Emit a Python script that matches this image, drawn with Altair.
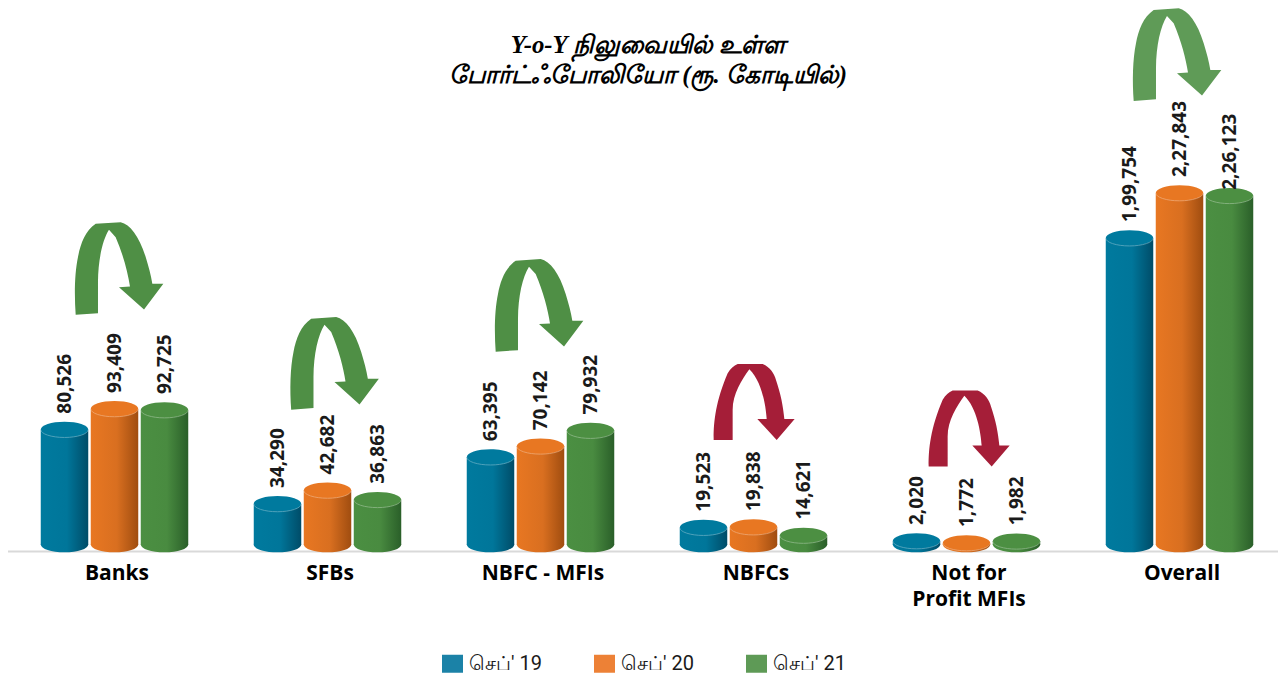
import altair as alt
import pandas as pd

categories = ["Banks", "SFBs", "NBFC - MFIs", "NBFCs", "Not for|Profit MFIs", "Overall"]
series = ["செப்' 19", "செப்' 20", "செப்' 21"]
values_19 = [80526, 34290, 63395, 19523, 2020, 199754]
values_20 = [93409, 42682, 70142, 19838, 1772, 227843]
values_21 = [92725, 36863, 79932, 14621, 1982, 226123]
labels_19 = ["80,526", "34,290", "63,395", "19,523", "2,020", "1,99,754"]
labels_20 = ["93,409", "42,682", "70,142", "19,838", "1,772", "2,27,843"]
labels_21 = ["92,725", "36,863", "79,932", "14,621", "1,982", "2,26,123"]
title_lines = ["Y-o-Y நிலுவையில் உள்ள", "போர்ட்ஃபோலியோ (ரூ. கோடியில்)"]

swatch = ["#1b82a7", "#ed8136", "#5e9a56"]
top_col = ["#007a9e", "#e87722", "#4c8f42"]
grad = [["#007a9e", "#00769a", "#004c68"],
        ["#e87722", "#d96f20", "#a04d10"],
        ["#4b8f42", "#498b40", "#2a5f29"]]

rows = []
for i, (vals, labs) in enumerate(zip([values_19, values_20, values_21], [labels_19, labels_20, labels_21])):
    for c, v, l in zip(categories, vals, labs):
        rows.append({"category": c, "series": series[i], "value": v, "label": l, "base": 0})
df = pd.DataFrame(rows)

W, H = 1270, 666
x_scale = alt.Scale(type="point", domain=categories, range=[106.5, 1171.5], padding=0)
y_scale = alt.Scale(domain=[0, 1772, 2020, 14621, 227843], range=[536.5, 535, 533, 527.5, 185],
                    nice=False, zero=False, clamp=False)
off_scale = alt.Scale(type="point", domain=series, range=[-50, 50], padding=0)
lab_off_scale = alt.Scale(type="point", domain=series, range=[-48, 47], padding=0)

x_axis = alt.Axis(
    orient="bottom", offset=-(H - 543), domain=False, ticks=False, labelAngle=0, title=None,
    labelFont="Open Sans", labelFontWeight="bold", labelFontSize=21, labelColor="#000000",
    labelPadding=11, labelOffset=2, labelOverlap=False, labelFlush=False,
    labelLineHeight=26, labelBaseline="top", labelExpr="split(datum.label, '|')")
X = alt.X("category:N", scale=x_scale, sort=categories, axis=x_axis)
Y = alt.Y("value:Q", scale=y_scale, axis=None)
XO = alt.XOffset("series:N", scale=off_scale, sort=series)

ELLIPSE = "M -1 0 A 1 0.33 0 1 1 1 0 A 1 0.33 0 1 1 -1 0 Z"
RIM = "M -1 0 A 1 0.33 0 0 0 1 0"
SZ = 47.5 ** 2

layers = []

# baseline
layers.append(alt.Chart(pd.DataFrame({"v": [0]})).mark_rule(color="#d9d9d9", strokeWidth=2).encode(
    x=alt.value(-1), x2=alt.value(W), y=alt.value(543.5)))

for i, s in enumerate(series):
    d = df[df.series == s]
    g = alt.Gradient(gradient="linear", x1=0, y1=0, x2=1, y2=0,
                     stops=[alt.GradientStop(color=grad[i][0], offset=0),
                            alt.GradientStop(color=grad[i][1], offset=0.55),
                            alt.GradientStop(color=grad[i][2], offset=1)])
    base = alt.Chart(d)
    layers.append(base.mark_point(shape=ELLIPSE, size=SZ, filled=True, fill=g, opacity=1, strokeWidth=0).encode(
        x=X, xOffset=XO, y=alt.Y("base:Q", scale=y_scale, axis=None)))
    layers.append(base.mark_bar(width=47.5, fill=g, opacity=1).encode(
        x=X, xOffset=XO, y=Y, y2=alt.Y2("base:Q")))
    layers.append(base.mark_point(shape=ELLIPSE, size=SZ, filled=True, fill=top_col[i], opacity=1, strokeWidth=0).encode(
        x=X, xOffset=XO, y=Y))
    layers.append(base.mark_point(shape=RIM, size=SZ, filled=False, stroke="#ffffff", strokeWidth=1, opacity=0.3).encode(
        x=X, xOffset=XO, y=Y))

# value labels
lab_df = df[df.label != "2,26,123"]
lab_style = dict(angle=270, align="left", baseline="middle", font="Open Sans", fontWeight="bold",
                 fontSize=19, color="#1a1a1a")
layers.append(alt.Chart(lab_df).mark_text(dx=16, **lab_style).encode(
    x=X, xOffset=alt.XOffset("series:N", scale=lab_off_scale, sort=series), y=Y, text="label:N"))
layers.append(alt.Chart(df[df.label == "2,26,123"]).mark_text(dx=6, **lab_style).encode(
    x=X, xOffset=alt.XOffset("series:N", scale=lab_off_scale, sort=series), y=Y, text="label:N"))

# curved arrows
GREEN_ARROW = ("M -0.977 1.045 C -1.01 0.6 -1.0 0.1 -0.925 -0.256 C -0.87 -0.56 -0.76 -0.85 -0.526 -1.008 "
               "L 0.038 -1.045 C 0.25 -1.0 0.46 -0.72 0.602 -0.256 C 0.67 -0.03 0.72 0.15 0.752 0.346 "
               "L 1 0.346 L 0.564 0.925 L 0 0.421 L 0.248 0.406 C 0.2 0.1 0.1 -0.3 -0.075 -0.707 "
               "L -0.226 -0.872 C -0.37 -0.65 -0.47 -0.2 -0.474 0.3 L -0.474 1.008 Z")
RED_ARROW = ("M -0.996 0.938 C -1.0 0.5 -0.95 0.0 -0.65 -0.708 C -0.58 -0.83 -0.5 -0.9 -0.403 -0.938 "
             "L 0.214 -0.938 C 0.4 -0.86 0.5 -0.7 0.543 -0.543 C 0.66 -0.2 0.72 0.1 0.749 0.42 "
             "L 1.004 0.42 L 0.56 0.938 L 0.082 0.42 L 0.313 0.42 C 0.29 0.1 0.2 -0.5 -0.115 -0.807 "
             "C -0.3 -0.55 -0.527 -0.2 -0.527 0.198 L -0.527 0.938 Z")
arrow_category = ["Banks", "SFBs", "NBFC - MFIs", "NBFCs", "Not for|Profit MFIs", "Overall"]
arrow_level = [180860, 121750, 157840, 97790, 81300, 314000]
arrow_shape = [GREEN_ARROW, GREEN_ARROW, GREEN_ARROW, RED_ARROW, RED_ARROW, GREEN_ARROW]
arrow_color = ["#4f8f45", "#4f8f45", "#4f8f45", "#a51e38", "#a51e38", "#5f9b57"]
arrow_size = [7862, 7862, 7862, 6561, 6561, 7862]
arrow_shift = [4.5, 7, -1.5, 0.5, 2.5, -2.5]
for c, lv, sh, col, sz, dx in zip(arrow_category, arrow_level, arrow_shape, arrow_color, arrow_size, arrow_shift):
    layers.append(alt.Chart(pd.DataFrame({"category": [c], "value": [lv]})).mark_point(
        shape=sh, size=sz, filled=True, fill=col, opacity=1, strokeWidth=0, xOffset=dx).encode(
        x=X, y=Y))

# legend carrier
layers.append(alt.Chart(df).mark_point(size=0, filled=True, opacity=1).encode(
    x=X, y=Y,
    color=alt.Color("series:N", scale=alt.Scale(domain=series, range=swatch), sort=series, legend=alt.Legend(
        title=None, orient="none", legendX=434, legendY=645, direction="horizontal", columns=3,
        symbolType="M -1 -0.857 L 1 -0.857 L 1 0.857 L -1 0.857 Z", symbolSize=441, symbolOpacity=1,
        symbolStrokeWidth=0, labelFont="Roboto", labelFontSize=20, labelColor="#1a1a1a",
        labelOffset=6, columnPadding=52, labelLimit=300))))

chart = alt.layer(*layers).resolve_scale(x="shared", y="shared").properties(
    width=W, height=H, padding=0, autosize=alt.AutoSizeParams(type="none"),
    title=alt.TitleParams(text=title_lines, font="Liberation Serif", fontStyle="italic", fontWeight="bold",
                          fontSize=24.8, color="#000000", anchor="middle", frame="group", dx=5, offset=-80,
                          lineHeight=30, orient="top"),
).configure_view(stroke=None)

chart.save("out.html", embed_options={"renderer": "svg", "actions": False})
